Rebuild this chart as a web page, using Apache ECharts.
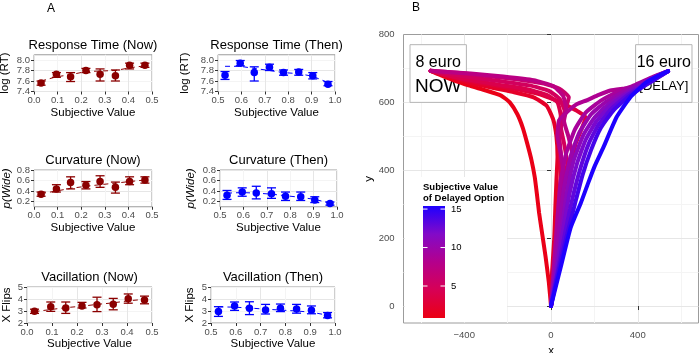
<!DOCTYPE html>
<html>
<head>
<meta charset="utf-8">
<script src="https://cdn.jsdelivr.net/npm/echarts@6/dist/echarts.min.js"></script>
<style>
  html, body { margin: 0; padding: 0; background: #fff; }
  #chart { width: 700px; height: 353px; }
</style>
</head>
<body>
<div id="chart"></div>
<script>
// ---- panel A data ----
const svNow = [0.03, 0.095, 0.155, 0.22, 0.28, 0.345, 0.405, 0.47];
const svThen = [0.53, 0.595, 0.655, 0.72, 0.78, 0.845, 0.905, 0.97];

const rtNow = [7.56, 7.73, 7.68, 7.80, 7.73, 7.70, 7.90, 7.90];
const rtNowLo = [7.52, 7.67, 7.59, 7.76, 7.60, 7.60, 7.83, 7.86];
const rtNowHi = [7.60, 7.76, 7.76, 7.84, 7.83, 7.81, 7.94, 7.94];
const rtNowFit = [7.60, 7.68, 7.72, 7.78, 7.79, 7.80, 7.85, 7.89];

const rtThen = [7.71, 7.94, 7.76, 7.86, 7.76, 7.77, 7.70, 7.54];
const rtThenLo = [7.63, 7.89, 7.60, 7.80, 7.71, 7.71, 7.64, 7.51];
const rtThenHi = [7.78, 7.99, 7.87, 7.92, 7.81, 7.82, 7.76, 7.59];
const rtThenFit = [7.88, 7.88, 7.84, 7.80, 7.76, 7.74, 7.69, 7.57];

const curvNow = [0.34, 0.44, 0.56, 0.51, 0.58, 0.47, 0.58, 0.61];
const curvNowLo = [0.30, 0.38, 0.44, 0.44, 0.47, 0.36, 0.52, 0.55];
const curvNowHi = [0.38, 0.52, 0.67, 0.58, 0.69, 0.57, 0.67, 0.67];
const curvNowFit = [0.35, 0.40, 0.45, 0.49, 0.52, 0.55, 0.58, 0.61];

const curvThen = [0.32, 0.38, 0.36, 0.35, 0.30, 0.29, 0.23, 0.16];
const curvThenLo = [0.24, 0.30, 0.25, 0.26, 0.22, 0.22, 0.18, 0.13];
const curvThenHi = [0.41, 0.46, 0.49, 0.46, 0.38, 0.38, 0.29, 0.19];
const curvThenFit = [0.36, 0.37, 0.36, 0.34, 0.31, 0.28, 0.24, 0.17];

const vacNow = [2.98, 3.36, 3.26, 3.42, 3.52, 3.56, 4.02, 3.91];
const vacNowLo = [2.80, 2.97, 2.80, 3.25, 2.95, 3.10, 3.65, 3.60];
const vacNowHi = [3.15, 3.75, 3.75, 3.72, 4.15, 4.05, 4.42, 4.24];
const vacNowFit = [2.95, 3.12, 3.28, 3.40, 3.55, 3.68, 3.85, 3.97];

const vacThen = [2.95, 3.42, 3.23, 3.09, 3.23, 3.17, 3.06, 2.63];
const vacThenLo = [2.55, 3.05, 2.70, 2.75, 2.95, 2.82, 2.77, 2.43];
const vacThenHi = [3.36, 3.75, 3.77, 3.55, 3.58, 3.55, 3.42, 2.87];
const vacThenFit = [3.35, 3.32, 3.25, 3.15, 3.08, 3.00, 2.90, 2.65];

const xTicksNow = [0, 0.1, 0.2, 0.3, 0.4, 0.5];
const xTicksThen = [0.5, 0.6, 0.7, 0.8, 0.9, 1.0];
const rtTicks = [7.4, 7.6, 7.8, 8.0];
const curvTicks = [0.2, 0.4, 0.6, 0.8];
const vacTicks = [2, 3, 4, 5];

// ---- panel B data ----
const trajSV = [1, 2, 3, 4, 5, 6, 7.5, 8.5, 9, 10, 11, 12, 13, 14, 15.4];
const trajPoints = [
  [[0,0],[-10,70],[-25,145],[-40,210],[-55,275],[-65,330],[-75,380],[-90,430],[-110,480],[-130,525],[-155,565],[-190,600],[-230,620],[-300,635],[-380,650],[-460,668],[-520,683],[-555,693]],
  [[0,0],[5,100],[15,200],[20,290],[25,370],[30,440],[25,500],[10,550],[-20,590],[-80,615],[-170,630],[-270,643],[-370,657],[-470,675],[-555,693]],
  [[0,0],[10,120],[30,240],[55,330],[70,380],[95,430],[114,479],[140,520],[160,556],[120,575],[70,592],[23,606],[-60,625],[-170,640],[-290,653],[-410,668],[-555,693]],
  [[0,0],[15,110],[25,220],[35,310],[45,390],[40,450],[30,510],[45,560],[30,600],[-20,622],[-120,640],[-240,652],[-370,666],[-480,680],[-555,693]],
  [[0,0],[20,130],[40,250],[55,340],[75,420],[60,480],[45,530],[65,570],[40,610],[-10,634],[-100,650],[-230,662],[-360,673],[-470,684],[-555,693]],
  [[0,0],[25,120],[45,240],[55,330],[50,420],[40,490],[50,547],[82,615],[37,641],[-40,656],[-160,668],[-300,678],[-430,687],[-555,693]],
  [[0,0],[30,140],[60,270],[80,360],[100,440],[80,500],[60,545],[70,580],[55,620],[10,648],[-80,665],[-220,676],[-370,685],[-555,693]],
  [[0,0],[25,150],[45,280],[60,380],[45,450],[30,500],[37,547],[80,575],[120,595],[164,606],[220,622],[274,635],[330,640],[379,644],[440,660],[500,680],[540,692]],
  [[0,0],[15,130],[30,260],[45,370],[70,450],[110,520],[160,570],[230,605],[310,632],[390,652],[470,675],[540,692]],
  [[0,0],[20,120],[40,240],[60,350],[90,440],[130,510],[185,565],[250,600],[330,630],[410,655],[480,676],[540,692]],
  [[0,0],[25,110],[50,230],[75,340],[105,430],[150,505],[200,555],[265,595],[345,628],[420,655],[490,678],[540,692]],
  [[0,0],[25,100],[55,220],[85,330],[120,420],[160,490],[210,545],[275,590],[350,625],[425,652],[495,677],[540,692]],
  [[0,0],[30,100],[65,215],[100,320],[135,405],[175,480],[220,535],[285,585],[355,622],[430,650],[500,676],[540,692]],
  [[0,0],[30,90],[70,200],[110,300],[145,385],[185,460],[230,525],[290,578],[360,618],[435,650],[500,676],[540,692]],
  [[0,0],[45,115],[91,232],[137,303],[170,360],[200,410],[242,468],[302,556],[366,615],[439,659],[500,680],[540,692]]
];
const boxes = [
  [-650, 600, -390, 770, '8 euro', 'NOW'],
  [390, 600, 650, 770, '16 euro', '[DELAY]']
];
const bTicksX = [-400, 0, 400];
const bTicksY = [0, 200, 400, 600, 800];
const bMinorX = [-600, -200, 200, 600];
const bMinorY = [100, 300, 500, 700];
const legendTicks = [5, 10, 15];
const SV_MIN = 0.84, SV_MAX = 15.4;

// ---- styling ----
const FONT = '"Liberation Sans", Arial, sans-serif';
const MAJOR = '#e6e6e6', MINOR = '#f4f4f4', BORDER = '#9c9c9c', TICK = '#4d4d4d';
const NOW_COLOR = '#8b0000', THEN_COLOR = '#0000ff';
const STOPS = [[0, [235, 0, 20]], [0.25, [215, 0, 85]], [0.5, [180, 0, 140]], [0.75, [130, 10, 200]], [1, [30, 0, 255]]];

function svColor(v) {
  const t = Math.max(0, Math.min(1, (v - SV_MIN) / (SV_MAX - SV_MIN)));
  for (let i = 1; i < STOPS.length; i++) {
    if (t <= STOPS[i][0]) {
      const [t0, c0] = STOPS[i - 1], [t1, c1] = STOPS[i];
      const f = (t - t0) / (t1 - t0);
      const c = c0.map((a, k) => Math.round(a + (c1[k] - a) * f));
      return `rgb(${c[0]},${c[1]},${c[2]})`;
    }
  }
  return 'rgb(30,0,255)';
}

const zip = (...cols) => cols[0].map((_, i) => cols.map(c => c[i]));

const panels = [
  { title: 'Response Time (Now)', yName: 'log (RT)', gap: 23, left: 34, top: 54.75, width: 118, height: 36.75,
    xs: svNow, xr: [0, 0.5], xTicks: xTicksNow, y: [7.4, 8.1, 0.1], yTicks: rtTicks, ySplit: [MAJOR, MINOR],
    mean: rtNow, lo: rtNowLo, hi: rtNowHi, fit: rtNowFit, color: NOW_COLOR, digits: 1 },
  { title: 'Response Time (Then)', yName: 'log (RT)', gap: 27, left: 218, top: 54.75, width: 117, height: 36.75,
    xs: svThen, xr: [0.5, 1], xTicks: xTicksThen, y: [7.4, 8.1, 0.1], yTicks: rtTicks, ySplit: [MAJOR, MINOR],
    mean: rtThen, lo: rtThenLo, hi: rtThenHi, fit: rtThenFit, color: THEN_COLOR, digits: 1 },
  { title: 'Curvature (Now)', yName: 'p(Wide)', italic: true, gap: 17, left: 34, top: 170, width: 118, height: 36.75,
    xs: svNow, xr: [0, 0.5], xTicks: xTicksNow, y: [0.1, 0.8, 0.1], yTicks: curvTicks, ySplit: [MINOR, MAJOR],
    mean: curvNow, lo: curvNowLo, hi: curvNowHi, fit: curvNowFit, color: NOW_COLOR, digits: 1 },
  { title: 'Curvature (Then)', yName: 'p(Wide)', italic: true, gap: 23, left: 220, top: 170, width: 117, height: 36.75,
    xs: svThen, xr: [0.5, 1], xTicks: xTicksThen, y: [0.1, 0.8, 0.1], yTicks: curvTicks, ySplit: [MINOR, MAJOR],
    mean: curvThen, lo: curvThenLo, hi: curvThenHi, fit: curvThenFit, color: THEN_COLOR, digits: 1 },
  { title: 'Vacillation (Now)', yName: 'X Flips', gap: 14, left: 27, top: 287, width: 125, height: 36,
    xs: svNow, xr: [0, 0.5], xTicks: xTicksNow, y: [2, 5, 0.5], yTicks: vacTicks, ySplit: [MAJOR, MINOR],
    mean: vacNow, lo: vacNowLo, hi: vacNowHi, fit: vacNowFit, color: NOW_COLOR, digits: 0 },
  { title: 'Vacillation (Then)', yName: 'X Flips', gap: 15, left: 211, top: 287, width: 124, height: 36,
    xs: svThen, xr: [0.5, 1], xTicks: xTicksThen, y: [2, 5, 0.5], yTicks: vacTicks, ySplit: [MAJOR, MINOR],
    mean: vacThen, lo: vacThenLo, hi: vacThenHi, fit: vacThenFit, color: THEN_COLOR, digits: 0 }
];

const grids = [], xAxes = [], yAxes = [], series = [], graphics = [];

function errorBar(color) {
  return function (params, api) {
    const x = api.value(0);
    const a = api.coord([x, api.value(1)]);
    const b = api.coord([x, api.value(2)]);
    const w = 4.5;
    const style = { stroke: color, lineWidth: 1.3 };
    return {
      type: 'group',
      children: [
        { type: 'line', shape: { x1: a[0], y1: a[1], x2: b[0], y2: b[1] }, style },
        { type: 'line', shape: { x1: a[0] - w, y1: a[1], x2: a[0] + w, y2: a[1] }, style },
        { type: 'line', shape: { x1: b[0] - w, y1: b[1], x2: b[0] + w, y2: b[1] }, style }
      ]
    };
  };
}

panels.forEach((p, i) => {
  grids.push({ left: p.left, top: p.top, width: p.width, height: p.height, show: true, outerBoundsMode: 'none',
    containLabel: false, borderColor: BORDER, borderWidth: 1, backgroundColor: '#fff' });
  xAxes.push({
    gridIndex: i, type: 'value', min: p.xr[0], max: p.xr[1], interval: 0.05,
    axisLine: { show: false },
    axisTick: { show: true, length: 3, customValues: p.xTicks, lineStyle: { color: '#333' } },
    axisLabel: { customValues: p.xTicks, formatter: v => v.toFixed(1), fontSize: 9.5, margin: 4,
      color: TICK, fontFamily: FONT },
    splitLine: { show: true, lineStyle: { color: [MAJOR, MINOR], width: 1 } },
    name: 'Subjective Value', nameLocation: 'middle', nameGap: 15,
    nameTextStyle: { fontSize: 11.5, color: '#000', fontFamily: FONT }
  });
  yAxes.push({
    gridIndex: i, type: 'value', min: p.y[0], max: p.y[1], interval: p.y[2],
    axisLine: { show: false },
    axisTick: { show: true, length: 3, customValues: p.yTicks, lineStyle: { color: '#333' } },
    axisLabel: { customValues: p.yTicks, formatter: v => v.toFixed(p.digits), fontSize: 9.5, margin: 4,
      color: TICK, fontFamily: FONT },
    splitLine: { show: true, lineStyle: { color: p.ySplit, width: 1 } },
    name: p.yName, nameLocation: 'middle', nameGap: p.gap,
    nameTextStyle: { fontSize: 11.5, color: '#000', fontFamily: FONT, fontStyle: p.italic ? 'italic' : 'normal' }
  });
  series.push({
    type: 'line', xAxisIndex: i, yAxisIndex: i, data: zip(p.xs, p.fit), symbol: 'none',
    lineStyle: { color: p.color, width: 1, type: [5, 4] }, z: 1, silent: true
  });
  series.push({
    type: 'custom', xAxisIndex: i, yAxisIndex: i, data: zip(p.xs, p.lo, p.hi),
    renderItem: errorBar(p.color), z: 2, silent: true
  });
  series.push({
    type: 'scatter', xAxisIndex: i, yAxisIndex: i, data: zip(p.xs, p.mean), symbolSize: 7.5,
    itemStyle: { color: p.color, opacity: 1 }, z: 3, silent: true
  });
  graphics.push({ type: 'text', x: p.left + p.width / 2, y: p.top - 9.5,
    style: { text: p.title, font: '13px ' + FONT, fill: '#000', textAlign: 'center', textVerticalAlign: 'middle',
      align: 'center', verticalAlign: 'middle' } });
});

// ---- panel B ----
const gB = panels.length;
grids.push({ left: 403.5, top: 34.5, width: 295, height: 288.5, show: true, outerBoundsMode: 'none',
  containLabel: false, borderColor: BORDER, borderWidth: 1, backgroundColor: '#fff' });
xAxes.push({
  gridIndex: gB, type: 'value', min: -680, max: 680, interval: 40,
  axisLine: { show: false },
  axisTick: { show: true, length: 4, customValues: bTicksX, lineStyle: { color: '#333' } },
  axisLabel: { customValues: bTicksX, formatter: v => String(v).replace('-', '\u2212'),
    fontSize: 9.5, margin: 7, color: TICK, fontFamily: FONT },
  splitLine: { show: false },
  name: 'x', nameLocation: 'middle', nameGap: 17,
  nameTextStyle: { fontSize: 11.5, color: '#000', fontFamily: FONT }
});
yAxes.push({
  gridIndex: gB, type: 'value', min: -50, max: 800, interval: 50,
  axisLine: { show: false },
  axisTick: { show: true, length: 4, customValues: bTicksY, lineStyle: { color: '#333' } },
  axisLabel: { customValues: bTicksY, fontSize: 9.5, margin: 9, color: TICK, fontFamily: FONT },
  splitLine: { show: false },
  name: 'y', nameLocation: 'middle', nameGap: 25,
  nameTextStyle: { fontSize: 11.5, color: '#000', fontFamily: FONT }
});

const gridLine = (key, color) => v => ({ [key]: v, lineStyle: { color, width: 1, type: 'solid' } });
series.push({
  type: 'line', xAxisIndex: gB, yAxisIndex: gB, data: [], z: 0, silent: true,
  markLine: {
    z: 0, silent: true, symbol: ['none', 'none'], label: { show: false }, animation: false,
    data: [
      ...bMinorX.map(gridLine('xAxis', MINOR)), ...bMinorY.map(gridLine('yAxis', MINOR)),
      ...bTicksX.map(gridLine('xAxis', MAJOR)), ...bTicksY.slice(0, -1).map(gridLine('yAxis', MAJOR))
    ]
  }
});

series.push({
  type: 'custom', xAxisIndex: gB, yAxisIndex: gB, data: boxes, z: 1, silent: true,
  renderItem(params, api) {
    const tl = api.coord([api.value(0), api.value(3)]);
    const br = api.coord([api.value(2), api.value(1)]);
    const cx = (tl[0] + br[0]) / 2;
    const big = params.dataIndex === 0 ? 19 : 13;
    const txt = (text, y, size) => ({ type: 'text', style: { text, x: cx, y, font: size + 'px ' + FONT,
      fill: '#000', textAlign: 'center', textVerticalAlign: 'middle', align: 'center', verticalAlign: 'middle' } });
    return {
      type: 'group',
      children: [
        { type: 'rect', shape: { x: tl[0], y: tl[1], width: br[0] - tl[0], height: br[1] - tl[1] },
          style: { fill: '#fff', stroke: '#b5b5b5', lineWidth: 1 } },
        txt(api.value(4), tl[1] + 18, 16),
        txt(api.value(5), tl[1] + 42, big)
      ]
    };
  }
});

trajPoints.forEach((pts, k) => {
  series.push({
    type: 'line', xAxisIndex: gB, yAxisIndex: gB, data: pts, symbol: 'none', smooth: 0.15,
    lineStyle: { color: svColor(trajSV[k]), width: 4, cap: 'round', join: 'round' },
    z: 2 + k, silent: true
  });
});

// ---- panel labels and colour legend ----
const LEG_X = 423, LEG_TOP = 206, LEG_W = 22, LEG_H = 112;
const legY = v => LEG_TOP + (SV_MAX - v) / (SV_MAX - SV_MIN) * LEG_H;
const txtStyle = (text, x, y, font, align) => ({ type: 'text', x, y, z: 100,
  style: { text, font, fill: '#000', textAlign: align || 'left', textVerticalAlign: 'middle',
    align: align || 'left', verticalAlign: 'middle' } });

graphics.push(txtStyle('A', 51, 9, '12px ' + FONT, 'center'));
graphics.push(txtStyle('B', 416, 8, '12px ' + FONT, 'center'));
graphics.push({ type: 'rect', z: 99, shape: { x: 405, y: 177, width: 102, height: 145 }, style: { fill: '#fff' } });
graphics.push(txtStyle('Subjective Value', LEG_X, 187, 'bold 9.5px ' + FONT));
graphics.push(txtStyle('of Delayed Option', LEG_X, 198, 'bold 9.5px ' + FONT));
graphics.push({
  type: 'rect', z: 100, shape: { x: LEG_X, y: LEG_TOP, width: LEG_W, height: LEG_H },
  style: { fill: new echarts.graphic.LinearGradient(0, 0, 0, 1,
    STOPS.slice().reverse().map(([t, c]) => ({ offset: 1 - t, color: `rgb(${c[0]},${c[1]},${c[2]})` }))) }
});
legendTicks.forEach(v => {
  const y = legY(v);
  graphics.push({ type: 'line', z: 101, shape: { x1: LEG_X, y1: y, x2: LEG_X + 4.5, y2: y },
    style: { stroke: '#fff', lineWidth: 1 } });
  graphics.push({ type: 'line', z: 101, shape: { x1: LEG_X + LEG_W - 4.5, y1: y, x2: LEG_X + LEG_W, y2: y },
    style: { stroke: '#fff', lineWidth: 1 } });
  graphics.push(txtStyle(String(v), LEG_X + LEG_W + 6, y, '9.5px ' + FONT));
});

const chart = echarts.init(document.getElementById('chart'), null, { renderer: 'canvas' });
chart.setOption({
  animation: false,
  backgroundColor: '#fff',
  textStyle: { fontFamily: FONT },
  grid: grids,
  xAxis: xAxes,
  yAxis: yAxes,
  series,
  graphic: graphics
});
</script>
</body>
</html>
